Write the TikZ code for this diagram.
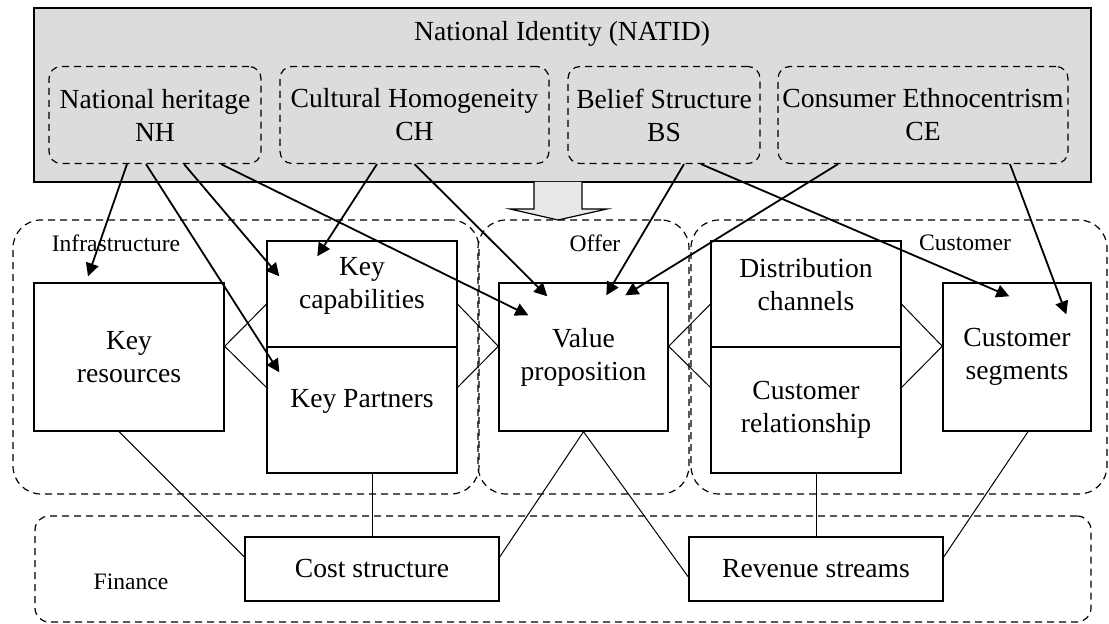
\documentclass[tikz,border=0pt]{standalone}
\usepackage{fontspec}
\setmainfont{Liberation Serif}
\usetikzlibrary{arrows.meta,calc}
\definecolor{natgrey}{HTML}{DCDCDC}
\definecolor{arrowgrey}{HTML}{E8E8E8}
\newcommand\boxfont{\fontsize{13.8}{16.5}\selectfont}
\newcommand\tagfont{\fontsize{11.8}{13}\selectfont}
\tikzset{
	box/.style={draw, line width=0.7pt, fill=white, align=center, inner sep=0pt},
	area/.style={draw, line width=0.6pt, dash pattern=on 3.5pt off 2.5pt, rounded corners=#1, inner sep=0pt},
	area/.default=6pt,
	link/.style={line width=0.5pt},
	influence/.style={line width=0.9pt, -{Triangle[length=6.5pt,width=6.5pt]}}
}

\begin{document}
\begin{tikzpicture}[x=0.5pt, y=-0.5pt, font=\boxfont]
	%%%%% START %%%%%
	\useasboundingbox (0,0) rectangle (1109,624);
	
	\node[draw, line width=1pt, fill=natgrey, minimum width=528.5pt, minimum height=87pt, inner sep=0pt] (natid) at (562.5,95) {};
	\node (natidt) at (562,34) {National Identity (NATID)};
	\node[area=6pt, minimum width=106pt, minimum height=48.5pt, align=center] (nh) at (155,115) {National heritage\\NH};
	\node[area=6pt, minimum width=134.5pt, minimum height=48.5pt, align=center] (ch) at (414.5,115) {Cultural Homogeneity\\CH};
	\node[area=6pt, minimum width=96pt, minimum height=48.5pt, align=center] (bs) at (664,115) {Belief Structure\\BS};
	\node[area=6pt, minimum width=145pt, minimum height=48.5pt, align=center] (ce) at (923,115) {Consumer Ethnocentrism\\CE};
	
	\draw[line width=0.6pt, fill=arrowgrey] (534,182) -- (534,209) -- (510,209) -- (558,220) -- (607,209) -- (582,209) -- (582,182);
	
	\node[area=14pt, minimum width=233pt, minimum height=137pt] (infra) at (246,357) {};
	\node[area=14pt, minimum width=105.5pt, minimum height=137pt] (offer) at (583.5,357) {};
	\node[area=14pt, minimum width=208pt, minimum height=137pt] (cust) at (899,357) {};
	\node[area=7pt, minimum width=528pt, minimum height=53pt] (fin) at (563,569) {};
	\node[font=\tagfont] (infrat) at (116,243) {Infrastructure};
	\node[font=\tagfont] (offert) at (595,243) {Offer};
	\node[font=\tagfont] (custt) at (965,243) {Customer};
	\node[font=\tagfont] (fint) at (131,582) {Finance};
	
	\node[box, minimum width=95pt, minimum height=74pt] (kr) at (129,357) {Key\\resources};
	\node[box, minimum width=95pt, minimum height=53pt, label={[align=center, yshift=4pt]center:Key\\capabilities}] (kc) at (362,294) {};
	\node[box, minimum width=95pt, minimum height=63pt, label={[yshift=4.5pt]center:Key Partners}] (kp) at (362,410) {};
	\node[box, minimum width=84.5pt, minimum height=74pt] (vp) at (583.5,357) {Value\\proposition};
	\node[box, minimum width=95pt, minimum height=53pt, label={[align=center, yshift=4.5pt]center:Distribution\\channels}] (dc) at (806,294) {};
	\node[box, minimum width=95pt, minimum height=63pt] (cr) at (806,410) {Customer\\relationship};
	\node[box, minimum width=74pt, minimum height=74pt] (cs) at (1017,357) {Customer\\segments};
	\node[box, minimum width=127pt, minimum height=32pt] (cost) at (372,569) {Cost structure};
	\node[box, minimum width=127pt, minimum height=32pt] (rev) at (816,569) {Revenue streams};
	
	\draw[link] ([yshift=21pt]kp.north west) -- (kr.east |- kp.north) -- ([yshift=-20.5pt]kp.north west);
	\draw[link] ([yshift=21pt]kp.north east) -- (vp.west |- kp.north) -- ([yshift=-20.5pt]kp.north east);
	\draw[link] ([yshift=21pt]cr.north west) -- (vp.east |- cr.north) -- ([yshift=-20.5pt]cr.north west);
	\draw[link] ([yshift=21pt]cr.north east) -- (cs.west |- cr.north) -- ([yshift=-20.5pt]cr.north east);
	\draw[link] ([xshift=-5pt]kr.south) -- ([yshift=6pt]cost.west);
	\draw[link] (kp.south -| cost.north) -- (cost.north);
	\draw[link] ([yshift=6pt]cost.east) -- (vp.south) -- ([yshift=-4pt]rev.west);
	\draw[link] (cr.south -| rev.north) -- (rev.north);
	\draw[link] ([xshift=5.5pt]cs.south) -- ([yshift=6pt]rev.east);
	
	\draw[influence] ([xshift=-14pt]nh.south) -- ([xshift=-20.5pt,yshift=3pt]kr.north);
	\draw[influence] ([xshift=-4.5pt]nh.south) -- ([xshift=6.5pt,yshift=-13pt]kp.north west);
	\draw[influence] ([xshift=14.5pt]nh.south) -- ([xshift=6.5pt,yshift=-18pt]kc.north west);
	\draw[influence] ([xshift=33pt]nh.south) -- ([xshift=15pt,yshift=-16.5pt]vp.north west);
	\draw[influence] ([xshift=-18.75pt]ch.south) -- ([xshift=25.5pt,yshift=-8pt]kc.north west);
	\draw[influence] (ch.south) -- ([xshift=24.5pt,yshift=-7pt]vp.north west);
	\draw[influence] ([xshift=10pt]bs.south) -- ([xshift=54pt,yshift=-6.5pt]vp.north west);
	\draw[influence] ([xshift=18.5pt]bs.south) -- ([xshift=33.5pt,yshift=-7pt]cs.north west);
	\draw[influence] ([xshift=-42.5pt]ce.south) -- ([xshift=63.5pt,yshift=-6.5pt]vp.north west);
	\draw[influence] ([xshift=43.5pt]ce.south) -- ([xshift=62pt,yshift=-16pt]cs.north west);
	
	%%%%% END %%%%%
\end{tikzpicture}
\end{document}
